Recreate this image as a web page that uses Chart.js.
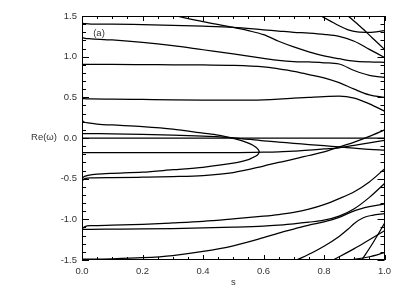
<!DOCTYPE html>
<html>
<head>
<meta charset="utf-8">
<script src="https://cdn.jsdelivr.net/npm/chart.js@4.4.1/dist/chart.umd.min.js"></script>
<style>
  html, body { margin: 0; padding: 0; background: #fff; }
  #wrap { width: 406px; height: 291px; }
</style>
</head>
<body>
<div id="wrap"><canvas id="chart"></canvas></div>
<script>
// shared s grid for the branches that run across the whole plot
const sGrid = [0, 0.01, 0.03, 0.1, 0.2, 0.3, 0.4, 0.5, 0.6, 0.65, 0.7, 0.75, 0.8, 0.85, 0.9, 0.95, 1];

// upper branches
const reA = [1.41, 1.405, 1.40, 1.40, 1.395, 1.385, 1.375, 1.36, 1.33, 1.315, 1.30, 1.29, 1.275, 1.25, 1.19, 1.09, 0.99];
const reB = [1.235, 1.225, 1.22, 1.205, 1.175, 1.135, 1.085, 1.035, 0.98, 0.955, 0.94, 0.935, 0.925, 0.91, 0.83, 0.77, 0.745];
const reC = [0.905, 0.905, 0.905, 0.905, 0.903, 0.90, 0.898, 0.894, 0.875, 0.85, 0.82, 0.78, 0.74, 0.68, 0.60, 0.53, 0.50];
const reD = [0.485, 0.483, 0.48, 0.478, 0.474, 0.47, 0.467, 0.466, 0.47, 0.478, 0.49, 0.50, 0.51, 0.515, 0.49, 0.42, 0.33];

// branches coming in from the top edge
const sT1 = [0.31, 0.4, 0.5, 0.55, 0.6, 0.65, 0.7, 0.75, 0.8, 0.85, 0.9, 0.95, 1];
const reT1 = [1.5, 1.43, 1.36, 1.32, 1.27, 1.19, 1.12, 1.06, 1.01, 0.975, 0.945, 0.935, 0.93];
const sT2 = [0.79, 0.82, 0.85, 0.88, 0.91, 0.95, 1];
const reT2 = [1.5, 1.44, 1.38, 1.33, 1.305, 1.30, 1.32];
const sT3 = [0.88, 0.92, 0.96, 1];
const reT3 = [1.5, 1.37, 1.23, 1.09];

// branches near Re = 0
const reE = [0.055, 0.055, 0.054, 0.052, 0.045, 0.035, 0.022, 0.003, -0.035, -0.05, -0.065, -0.08, -0.095, -0.11, -0.125, -0.14, -0.15];
const sZ = [0, 1];
const reZ = [0, 0];
const reF = [-0.18, -0.18, -0.18, -0.18, -0.18, -0.18, -0.18, -0.18, -0.175, -0.17, -0.16, -0.15, -0.135, -0.12, -0.09, -0.06, -0.03];
const reG = [-0.525, -0.50, -0.49, -0.487, -0.482, -0.475, -0.462, -0.425, -0.345, -0.30, -0.26, -0.215, -0.17, -0.11, -0.05, 0.02, 0.10];

// closed loop that ends at s ~ 0.585
const sLoopUp = [0, 0.005, 0.02, 0.05, 0.1, 0.2, 0.3, 0.4, 0.45, 0.5, 0.53, 0.55, 0.565, 0.575, 0.582, 0.586];
const reLoopUp = [0.22, 0.20, 0.185, 0.172, 0.16, 0.14, 0.11, 0.06, 0.035, -0.005, -0.035, -0.063, -0.09, -0.115, -0.14, -0.17];
const sLoopDown = [0.582, 0.575, 0.565, 0.55, 0.5, 0.4, 0.3, 0.2, 0.1, 0.05, 0.02, 0.005, 0];
const reLoopDown = [-0.20, -0.222, -0.24, -0.265, -0.31, -0.36, -0.39, -0.42, -0.435, -0.445, -0.46, -0.48, -0.52];

// lower branches
const reH1 = [-1.115, -1.09, -1.078, -1.072, -1.062, -1.045, -1.025, -0.995, -0.962, -0.942, -0.915, -0.875, -0.82, -0.745, -0.66, -0.54, -0.38];
const reH2 = [-1.125, -1.124, -1.123, -1.121, -1.118, -1.113, -1.106, -1.096, -1.082, -1.07, -1.055, -1.035, -1.01, -0.96, -0.87, -0.73, -0.56];
const reH3 = [-1.49, -1.49, -1.489, -1.485, -1.472, -1.445, -1.395, -1.325, -1.225, -1.17, -1.12, -1.07, -1.03, -0.975, -0.895, -0.845, -0.81];

// branches coming in from the bottom edge
const sB1 = [0.71, 0.75, 0.8, 0.85, 0.88, 0.9, 0.93, 0.96, 1];
const reB1 = [-1.5, -1.43, -1.33, -1.21, -1.12, -1.05, -0.98, -0.95, -0.93];
const sB2 = [0.83, 0.9, 0.95, 1];
const reB2 = [-1.5, -1.36, -1.25, -1.14];
const sB3 = [0.89, 0.95, 1];
const reB3 = [-1.5, -1.46, -1.41];
const sB4 = [0.925, 0.96, 1];
const reB4 = [-1.5, -1.3, -1.05];

const xTicks = [0, 0.2, 0.4, 0.6, 0.8, 1.0];
const yTicks = [-1.5, -1.0, -0.5, 0.0, 0.5, 1.0, 1.5];

const FONT = '"Liberation Sans", Arial, sans-serif';
const INK = '#000';

function toPoints(s, re) {
    return s.map((v, i) => ({ x: v, y: re[i] }));
}

function branch(s, re, extra) {
    return Object.assign({
        data: toPoints(s, re),
        borderColor: INK,
        borderWidth: 1.25,
        pointRadius: 0,
        fill: false,
        cubicInterpolationMode: 'monotone'
    }, extra || {});
}

const datasets = [
    branch(sGrid, reA),
    branch(sGrid, reB),
    branch(sGrid, reC),
    branch(sGrid, reD),
    branch(sT1, reT1),
    branch(sT2, reT2),
    branch(sT3, reT3),
    branch(sGrid, reE),
    branch(sZ, reZ),
    branch(sGrid, reF),
    branch(sGrid, reG),
    // loop: upper side then back along the lower side
    branch(sLoopUp.concat(sLoopDown), reLoopUp.concat(reLoopDown), { cubicInterpolationMode: 'default', tension: 0.3 }),
    branch(sGrid, reH1),
    branch(sGrid, reH2),
    branch(sGrid, reH3),
    branch(sB1, reB1),
    branch(sB2, reB2),
    branch(sB3, reB3),
    branch(sB4, reB4)
];

// frame with inward ticks on all four sides, plus the free text
const framePlugin = {
    id: 'frame',
    afterDatasetsDraw(chart) {
        const { ctx, chartArea: a, scales: { x, y } } = chart;
        ctx.save();
        ctx.strokeStyle = INK;
        ctx.lineWidth = 1;
        ctx.strokeRect(Math.round(a.left) + 0.5, Math.round(a.top) + 0.5,
            Math.round(a.right - a.left) - 1, Math.round(a.bottom - a.top) - 1);

        ctx.beginPath();
        for (let i = 0; i <= 20; i++) {
            const px = Math.round(x.getPixelForValue(i * 0.05)) + 0.5;
            const len = i % 4 === 0 ? 5 : 3;
            ctx.moveTo(px, a.bottom); ctx.lineTo(px, a.bottom - len);
            ctx.moveTo(px, a.top); ctx.lineTo(px, a.top + len);
        }
        for (let i = -15; i <= 15; i++) {
            const py = Math.round(y.getPixelForValue(i / 10)) + 0.5;
            const len = i % 5 === 0 ? 7 : 4;
            ctx.moveTo(a.left, py); ctx.lineTo(a.left + len, py);
            ctx.moveTo(a.right, py); ctx.lineTo(a.right - len, py);
        }
        ctx.stroke();

        ctx.fillStyle = '#333';
        ctx.font = '9.5px ' + FONT;
        ctx.textAlign = 'center';
        ctx.textBaseline = 'middle';
        ctx.fillText('Re(\u03c9)', 44, 137);
        ctx.fillText('(a)', 99, 33);
        ctx.fillText('s', (a.left + a.right) / 2, 282);
        ctx.restore();
    }
};

new Chart(document.getElementById('chart'), {
    type: 'line',
    data: { datasets },
    options: {
        responsive: true,
        maintainAspectRatio: false,
        animation: false,
        events: [],
        layout: { padding: { left: 0, top: 16, right: 21.5, bottom: 0 } },
        plugins: {
            legend: { display: false },
            tooltip: { enabled: false }
        },
        scales: {
            x: {
                type: 'linear',
                min: 0,
                max: 1,
                afterFit: scale => { scale.height = 31; },
                afterBuildTicks: scale => { scale.ticks = xTicks.map(v => ({ value: v })); },
                grid: { display: false, drawTicks: false },
                border: { display: false },
                ticks: {
                    color: '#333',
                    padding: 6,
                    maxRotation: 0,
                    autoSkip: false,
                    font: { family: FONT, size: 9.5 },
                    callback: v => v.toFixed(1)
                }
            },
            y: {
                type: 'linear',
                min: -1.5,
                max: 1.5,
                afterFit: scale => { scale.width = 82; },
                afterBuildTicks: scale => { scale.ticks = yTicks.map(v => ({ value: v })); },
                grid: { display: false, drawTicks: false },
                border: { display: false },
                ticks: {
                    color: '#333',
                    padding: 5,
                    autoSkip: false,
                    font: { family: FONT, size: 9.5 },
                    callback: v => v.toFixed(1)
                }
            }
        }
    },
    plugins: [framePlugin]
});
</script>
</body>
</html>
